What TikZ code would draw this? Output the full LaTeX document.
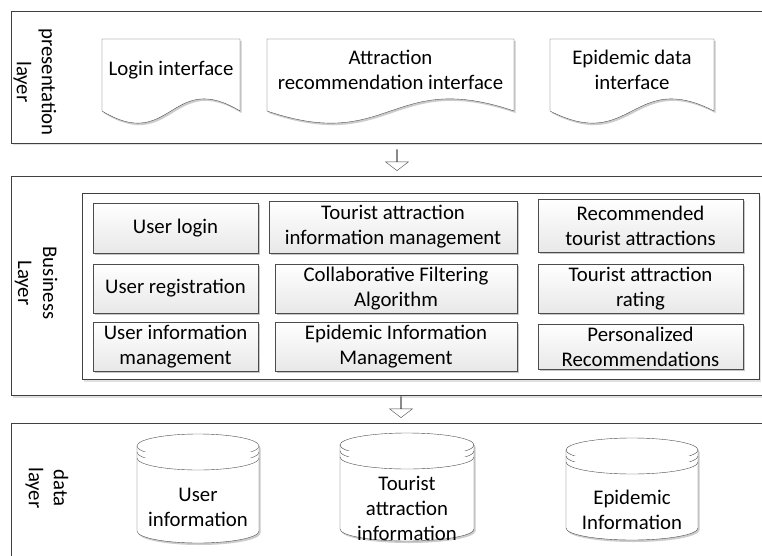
\documentclass[tikz,border=0pt]{standalone}
\usepackage{fontspec}
\setmainfont{Carlito}
\usetikzlibrary{calc,shapes.arrows,shadows}

\tikzset{
	layerbox/.style={draw=black!75, fill=white, drop shadow={shadow xshift=1.5pt,shadow yshift=-2.5pt,fill=black!12,opacity=1}},
	docline/.style={draw=black!70, fill=white, drop shadow={shadow xshift=1.5pt,shadow yshift=-2pt,fill=black!20,opacity=1}},
	diskline/.style={draw=black!70, fill=white},
	funcbox/.style={draw=black!70, top color=white, bottom color=black!9, inner sep=0pt, align=center,
		drop shadow={shadow xshift=1.5pt,shadow yshift=-1.5pt,fill=black!22,opacity=1}},
	layername/.style={rotate=-90, align=center, inner sep=0pt},
	txt/.style={align=center, inner sep=0pt},
	downarr/.style={single arrow, shape border rotate=270, draw=black!70, fill=white, inner sep=0pt,
		minimum height=21pt, minimum width=23pt, single arrow head extend=6.5pt, single arrow tip angle=105}
}

% document sheet with wavy lower edge
\newcommand{\docpage}[2]{%
	\path[docline] (#1,39) -- (#2,39) -- (#2,111) .. controls ({(#1+#2)/2},69) and ({(#1+#2)/2},153) .. (#1,111) -- cycle;}

% disk store
\newcommand{\dbdisk}[4]{%
	\filldraw[diskline, drop shadow={shadow xshift=1.5pt,shadow yshift=-2pt,fill=black!20,opacity=1}] (#1-#3,#2+12) -- (#1-#3,#4-12) arc[start angle=180,end angle=0,x radius=#3,y radius=12] -- (#1+#3,#2+12) arc[start angle=0,end angle=-180,x radius=#3,y radius=12] -- cycle;
	\draw[diskline] (#1-#3,#2+12) arc[start angle=180,end angle=0,x radius=#3,y radius=12];
	\draw[diskline] (#1-#3,#2+18) arc[start angle=180,end angle=0,x radius=#3,y radius=12];
	\draw[diskline] (#1-#3,#2+24) arc[start angle=180,end angle=0,x radius=#3,y radius=12];}

\begin{document}
\begin{tikzpicture}[x=1pt,y=-1pt,font=\fontsize{20.8}{25}\selectfont]
	\useasboundingbox (0,0) rectangle (762,556);
	\clip (0,0) rectangle (762,556);
	\draw[layerbox] (11,11) rectangle (790,143); %presentation layer
	\draw[layerbox] (11,176) rectangle (790,395); %business layer
	\draw[layerbox] (11,423) rectangle (790,620); %data layer
	\draw[layerbox] (82,193) rectangle (759,379);

	\node[layername] (pl) at (35,82) {presentation\\layer};
	\node[layername] (bl) at (36,283) {Business\\Layer};
	\node[layername] (dl) at (47,488) {data\\layer};

	% interfaces
	\docpage{102}{240}
	\docpage{267}{514}
	\docpage{550}{714}
	\node[txt] (login) at (171,70) {Login interface};
	\node[txt] (attrui) at (390.5,70) {Attraction\\recommendation interface};
	\node[txt] (epiui) at (632,70) {Epidemic data\\interface};

	\node[downarr] (arr1) at (397,160) {};
	\node[downarr] (arr2) at (401,407) {};

	% business functions
	\node[funcbox, minimum width=165pt, minimum height=50pt] (ulogin) at (175.5,228) {User login};
	\node[funcbox, minimum width=165pt, minimum height=49pt] (ureg) at (175.5,288.5) {User registration};
	\node[funcbox, minimum width=165pt, minimum height=49pt] (uinfo) at (175.5,346.5) {User information\\management};
	\node[funcbox, minimum width=248pt, minimum height=52pt] (tinfo) at (393,227) {Tourist attraction\\information management};
	\node[funcbox, minimum width=242pt, minimum height=49pt] (cf) at (396,288.5) {Collaborative Filtering\\Algorithm};
	\node[funcbox, minimum width=242pt, minimum height=49pt] (epim) at (396,346.5) {Epidemic Information\\Management};
	\node[funcbox, minimum width=205pt, minimum height=53pt] (rec) at (640.5,225.5) {Recommended\\tourist attractions};
	\node[funcbox, minimum width=205pt, minimum height=49pt] (rate) at (640.5,288.5) {Tourist attraction\\rating};
	\node[funcbox, minimum width=205pt, minimum height=45pt] (pers) at (640.5,346.5) {Personalized\\Recommendations};

	% data stores
	\dbdisk{198}{434}{61}{543}
	\dbdisk{407}{433}{67}{541}
	\dbdisk{632}{438}{66}{540}
	\node[txt] (uinfodb) at (198,507) {User\\information};
	\node[txt] (tinfodb) at (407,508) {Tourist\\attraction\\information};
	\node[txt] (epidb) at (632,510) {Epidemic\\Information};
\end{tikzpicture}
\end{document}
